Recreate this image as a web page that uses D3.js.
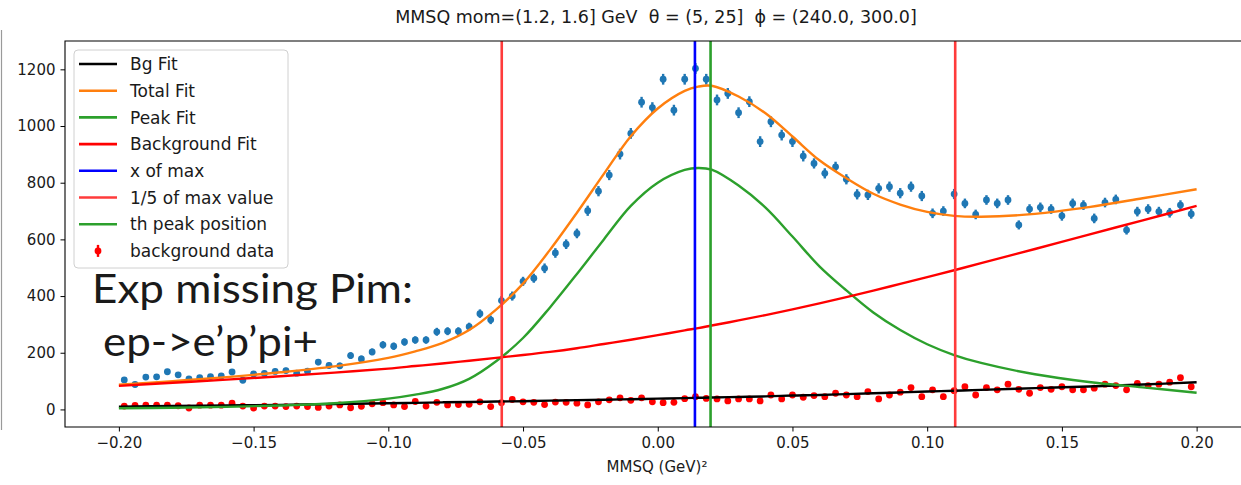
<!DOCTYPE html>
<html>
<head>
<meta charset="utf-8">
<script src="https://d3js.org/d3.v7.min.js"></script>
<style>
  body { margin: 0; background: #fff; }
  text { font-family: "DejaVu Sans", sans-serif; fill: #1a1a1a; }
  .axis path, .axis line { stroke: #000; }
</style>
</head>
<body>
<script>
// histogram bins: 100 bins over [-0.2, 0.2]
const binLo = -0.198, binStep = 0.004

// blue points: MMSQ data counts and their error bars
const dataCounts = [104, 88, 114, 115, 133, 122, 108, 112, 116, 118,
  132, 103, 125, 127, 134, 137, 128, 135, 167, 155,
  154, 190, 178, 203, 228, 223, 238, 245, 245, 274,
  276, 276, 292, 338, 316, 384, 400, 452, 463, 498,
  552, 583, 621, 701, 770, 827, 901, 974, 1084, 1065,
  1165, 1056, 1165, 1203, 1165, 1092, 1115, 1047, 1086, 945,
  1015, 968, 945, 894, 868, 833, 856, 812, 759, 757,
  780, 786, 763, 786, 753, 692, 700, 760, 727, 688,
  739, 727, 739, 651, 707, 713, 707, 683, 727, 721,
  674, 730, 741, 633, 698, 707, 698, 694, 721, 690]
const dataErr = [9, 9, 9, 9, 10, 10, 9, 9, 9, 9,
  10, 9, 10, 10, 10, 10, 10, 10, 11, 11,
  11, 12, 12, 12, 13, 13, 13, 13, 13, 14,
  14, 14, 14, 15, 15, 16, 16, 16, 16, 17,
  17, 17, 17, 18, 18, 18, 19, 19, 19, 19,
  19, 19, 19, 19, 19, 19, 19, 19, 19, 19,
  19, 19, 19, 19, 18, 18, 18, 18, 18, 18,
  18, 18, 18, 18, 18, 17, 17, 18, 17, 17,
  17, 17, 17, 16, 17, 17, 17, 17, 17, 17,
  17, 17, 17, 16, 17, 17, 17, 17, 17, 17]

// red points: background data
const bgCounts = [12, 14, 15, 15, 15, 13, 5, 15, 15, 15,
  22, 12, 5, 12, 12, 10, 12, 10, 7, 12,
  16, 6, 11, 20, 24, 16, 10, 28, 12, 25,
  16, 17, 18, 27, 10, 24, 35, 27, 25, 17,
  26, 25, 22, 16, 27, 34, 41, 32, 41, 27,
  24, 25, 38, 45, 39, 37, 30, 37, 37, 30,
  51, 37, 51, 43, 49, 45, 57, 51, 45, 63,
  37, 51, 61, 77, 45, 69, 45, 66, 80, 51,
  77, 69, 89, 71, 57, 77, 71, 80, 69, 69,
  75, 89, 84, 69, 92, 84, 89, 96, 112, 80]

// fitted curves, read at these x positions
const curveX = [-0.2, -0.18, -0.16, -0.14, -0.12, -0.1, -0.09, -0.08, -0.07, -0.06,
  -0.05, -0.04, -0.03, -0.02, -0.01, 0, 0.01, 0.015, 0.02, 0.03,
  0.04, 0.05, 0.06, 0.07, 0.08, 0.09, 0.1, 0.11, 0.12, 0.14,
  0.16, 0.18, 0.2]
const bgFit = [10, 12, 14, 16, 19, 22, 23, 25, 26, 28,
  29, 31, 33, 34, 36, 38, 40, 41, 42, 44,
  46, 49, 51, 54, 57, 60, 63, 66, 69, 75,
  81, 88, 96]
const peakFit = [4, 6, 9, 14, 22, 38, 52, 72, 108, 170,
  252, 360, 478, 600, 718, 800, 845, 852, 846, 790,
  712, 610, 505, 420, 342, 280, 230, 192, 164, 124,
  97, 78, 59]
const backgroundFit = [83, 94, 105, 117, 130, 144, 153, 162, 172, 182,
  192, 203, 216, 231, 246, 262, 279, 287, 296, 314,
  333, 353, 374, 396, 419, 443, 467, 491, 516, 566,
  617, 667, 718]
const totalFit = [87, 100, 114, 131, 152, 182, 205, 234, 280, 352,
  444, 563, 694, 831, 964, 1062, 1124, 1139, 1142, 1104,
  1045, 963, 879, 816, 761, 723, 697, 683, 680, 690,
  714, 745, 777]

// vertical markers
const xOfMax = 0.0138
const thPeak = 0.0196
const fifthMax = [-0.0579, 0.1104]

const xTicks = [-0.2, -0.15, -0.1, -0.05, 0, 0.05, 0.1, 0.15, 0.2]
const yTicks = [0, 200, 400, 600, 800, 1000, 1200]
const legendLabels = ['Bg Fit', 'Total Fit', 'Peak Fit', 'Background Fit', 'x of max',
  '1/5 of max value', 'th peak position', 'background data']
const legendColors = ['#000000', '#ff7f0e', '#2ca02c', '#ff0000', '#0000ff',
  '#ff3b3b', '#2ca02c', '#ff0000']

const W = 1241, H = 485
const L = 65, T = 41, B = 427
const svg = d3.select('body').append('svg').attr('width', W).attr('height', H)

const x = d3.scaleLinear().domain([-0.22, 0.22]).range([L, 1250.5])
const y = d3.scaleLinear().domain([-62, 1300]).range([B, T])

svg.append('clipPath').attr('id', 'plot')
  .append('rect').attr('x', L).attr('y', T).attr('width', W - L).attr('height', B - T)

// thin gray border at far left of screenshot
svg.append('line').attr('x1', 1.5).attr('x2', 1.5).attr('y1', 30).attr('y2', 430)
  .attr('stroke', '#9a9a9a').attr('stroke-width', 1.2)

const plot = svg.append('g').attr('clip-path', 'url(#plot)')

const bins = d3.range(dataCounts.length).map(i => binLo + i * binStep)

// blue data with error bars
const blue = plot.append('g')
blue.selectAll('line').data(bins).join('line')
  .attr('x1', d => x(d)).attr('x2', d => x(d))
  .attr('y1', (d, i) => y(dataCounts[i] - dataErr[i]))
  .attr('y2', (d, i) => y(dataCounts[i] + dataErr[i]))
  .attr('stroke', '#1f77b4').attr('stroke-width', 2.4)
blue.selectAll('circle').data(bins).join('circle')
  .attr('cx', d => x(d)).attr('cy', (d, i) => y(dataCounts[i]))
  .attr('r', 3.4).attr('fill', '#1f77b4')

// red background data
const red = plot.append('g')
red.selectAll('circle').data(bins).join('circle')
  .attr('cx', d => x(d)).attr('cy', (d, i) => y(bgCounts[i]))
  .attr('r', 3.4).attr('fill', '#ff0000')

const line = d3.line().x(d => x(d[0])).y(d => y(d[1])).curve(d3.curveCatmullRom.alpha(0.5))
const curves = [
  [bgFit, '#000000'],
  [totalFit, '#ff7f0e'],
  [peakFit, '#2ca02c'],
  [backgroundFit, '#ff0000']
]
curves.forEach(([vals, col]) => {
  plot.append('path').datum(curveX.map((cx, i) => [cx, vals[i]]))
    .attr('d', line).attr('fill', 'none').attr('stroke', col)
    .attr('stroke-width', 2.4).attr('stroke-linejoin', 'round')
})

// vertical lines
const vlines = [[xOfMax, '#0000ff'], [fifthMax[0], '#ff3b3b'], [fifthMax[1], '#ff3b3b'], [thPeak, '#2ca02c']]
vlines.forEach(([v, col]) => {
  plot.append('line').attr('x1', x(v)).attr('x2', x(v)).attr('y1', T).attr('y2', B)
    .attr('stroke', col).attr('stroke-width', 2.6)
})

// axes
svg.append('g').attr('class', 'axis').attr('transform', `translate(0,${B})`)
  .call(d3.axisBottom(x).tickValues(xTicks).tickFormat(d3.format('.2f')).tickSize(4.5).tickPadding(6))
svg.append('g').attr('class', 'axis').attr('transform', `translate(${L},0)`)
  .call(d3.axisLeft(y).tickValues(yTicks).tickFormat(d3.format('d')).tickSize(4.5).tickPadding(5))
svg.selectAll('.axis .domain').remove()
svg.selectAll('.axis text').attr('font-size', 15).attr('fill', '#1a1a1a')
  .style('font-family', '"DejaVu Sans", sans-serif')

// frame
svg.append('path')
  .attr('d', `M${W + 2},${T}H${L}V${B}H${W + 2}`)
  .attr('fill', 'none').attr('stroke', '#000').attr('stroke-width', 1.1)

// title and label
svg.append('text').attr('x', 656).attr('y', 23).attr('text-anchor', 'middle')
  .attr('font-size', 17.5).style('white-space', 'pre')
  .text('MMSQ mom=(1.2, 1.6] GeV  θ = (5, 25]  ϕ = (240.0, 300.0]')
svg.append('text').attr('x', 657).attr('y', 472).attr('text-anchor', 'middle')
  .attr('font-size', 15).text('MMSQ (GeV)²')

// legend
const lg = svg.append('g')
lg.append('rect').attr('x', 74).attr('y', 50).attr('width', 214).attr('height', 218)
  .attr('rx', 4).attr('fill', '#fff').attr('fill-opacity', 0.85)
  .attr('stroke', '#d0d0d0').attr('stroke-width', 1)
legendLabels.forEach((lab, i) => {
  const ly = 64 + i * 26.7
  if (i < 7) {
    lg.append('line').attr('x1', 79).attr('x2', 117).attr('y1', ly).attr('y2', ly)
      .attr('stroke', legendColors[i]).attr('stroke-width', 2.6)
  } else {
    lg.append('line').attr('x1', 98).attr('x2', 98).attr('y1', ly - 6).attr('y2', ly + 6)
      .attr('stroke', legendColors[i]).attr('stroke-width', 2.4)
    lg.append('circle').attr('cx', 98).attr('cy', ly).attr('r', 3.4).attr('fill', legendColors[i])
  }
  lg.append('text').attr('x', 130).attr('y', ly).attr('dy', '0.36em')
    .attr('font-size', 17).text(lab)
})

// annotation pasted on the figure
const note = svg.append('g')
note.append('text').attr('x', 92).attr('y', 303).attr('font-size', 40)
  .attr('textLength', 321).attr('lengthAdjust', 'spacingAndGlyphs')
  .style('font-family', 'Lato, "Open Sans", sans-serif').attr('fill', '#000')
  .text('Exp missing Pim:')
note.append('text').attr('x', 103).attr('y', 356).attr('font-size', 40)
  .attr('textLength', 215).attr('lengthAdjust', 'spacingAndGlyphs')
  .style('font-family', 'Lato, "Open Sans", sans-serif').attr('fill', '#000')
  .text('ep->e’p’pi+')
</script>
</body>
</html>
